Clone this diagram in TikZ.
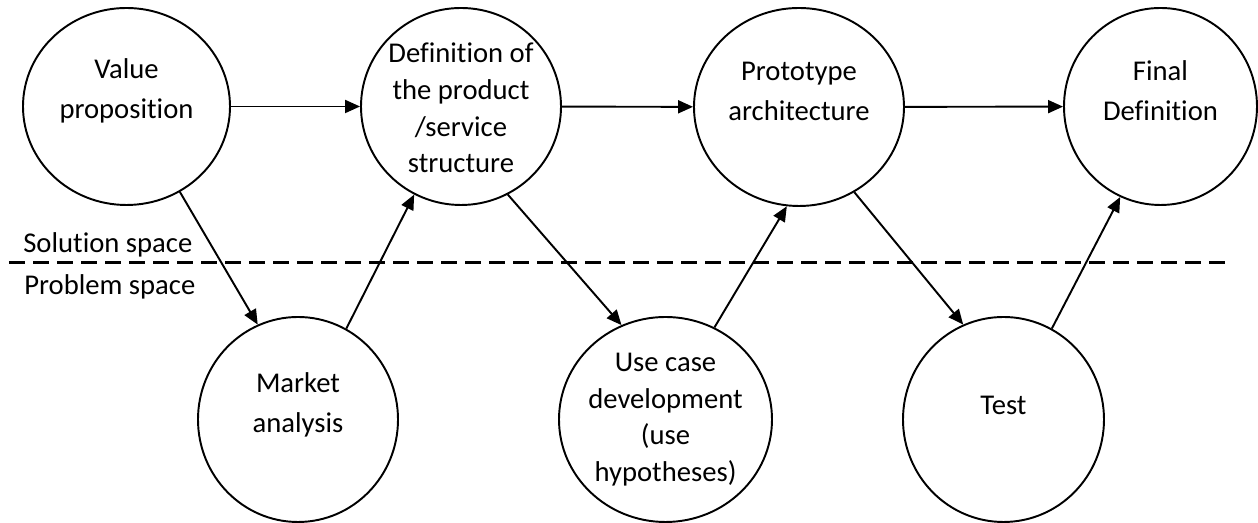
\documentclass[tikz,border=0pt]{standalone}
\usepackage{fontspec}
\setmainfont{Carlito}[Ligatures=NoCommon]
\usetikzlibrary{shapes.geometric,arrows.meta}

\begin{document}
\begin{tikzpicture}[
	font=\fontsize{16.3}{22.7}\selectfont,
	stage/.style={draw, ellipse, line width=1.1pt, inner sep=0pt},
	flow/.style={line width=1.1pt, -{Triangle[length=0.3cm, width=0.26cm]}},
	split/.style={line width=1.6pt, dash pattern=on 0.32cm off 0.16cm},
	tight/.style={font=\fontsize{16.3}{20.8}\selectfont},
	every label/.style={align=center}]
	\useasboundingbox (0,0) rectangle (25.16,10.46);
	\node[stage, minimum width=4.14cm, minimum height=3.94cm, label={[yshift=0.31cm]center:Value\\proposition}] (vp) at (2.53,8.33) {};
	\node[stage, minimum width=4.0cm, minimum height=3.94cm, label={[tight, yshift=-0.03cm]center:Definition of\\the product\\/service\\structure}] (def) at (9.22,8.33) {};
	\node[stage, minimum width=4.2cm, minimum height=3.96cm, label={[yshift=0.31cm]center:Prototype\\architecture}] (proto) at (15.98,8.32) {};
	\node[stage, minimum width=3.86cm, minimum height=3.94cm, label={[yshift=0.31cm]center:Final\\Definition}] (final) at (23.21,8.33) {};
	\node[stage, minimum width=4.0cm, minimum height=4.1cm, label={[yshift=0.3cm]center:Market\\analysis}] (market) at (5.96,2.07) {};
	\node[stage, minimum width=4.26cm, minimum height=4.1cm, label={[tight]center:Use case\\development\\(use\\hypotheses)}] (usecase) at (13.31,2.07) {};
	\node[stage, minimum width=4.02cm, minimum height=4.1cm, label={[yshift=0.29cm]center:Test}] (test) at (20.07,2.07) {};
	\draw[flow] (vp) -- (def);
	\draw[flow] (def) -- (proto);
	\draw[flow] (proto) -- (final);
	\draw[flow] (vp.-58.8) -- (market.113.6);
	\draw[flow] (market.62.4) -- (def.242.5);
	\draw[flow] (def.-62.2) -- (usecase.115.3);
	\draw[flow] (usecase.62.3) -- (proto.263);
	\draw[flow] (proto.-57.8) -- (test.113.7);
	\draw[flow] (test.62.5) -- (final.246.6);
	\coordinate (sl) at (0.18,5.21);
	\coordinate (sr) at (24.66,5.21);
	\draw[split] (sl) -- (sr);
	\node[anchor=base west, inner sep=0pt] (solution) at (0.46,5.41) {Solution space};
	\node[anchor=base west, inner sep=0pt] (problem) at (0.48,4.56) {Problem space};
\end{tikzpicture}
\end{document}
